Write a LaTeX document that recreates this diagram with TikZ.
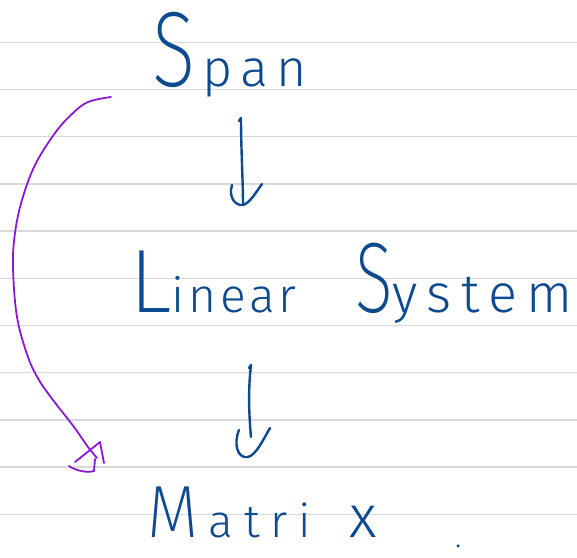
\documentclass[tikz,border=0pt]{standalone}
\usepackage{fontspec}
\usepackage{graphicx}
\newfontfamily\hand{Fira Sans Light}
\newfontfamily\handcap{Fira Sans ExtraLight}
\newcommand\hsz[1]{\fontsize{#1}{#1}\selectfont}
\definecolor{ink}{HTML}{0D4A8F}
\definecolor{violetink}{HTML}{8A1AD6}
\definecolor{paperrule}{HTML}{D9D9D9}

\begin{document}
\begin{tikzpicture}[x=1pt,y=-1pt,
  ruleline/.style={draw=paperrule,line width=1.4pt},
  word/.style={inner sep=0pt,anchor=base west,text=ink,font=\hand},
  pen/.style={draw=ink,line width=2.4pt,line cap=round,line join=round},
  violetpen/.style={draw=violetink,line width=1.8pt,line cap=round,line join=round}]
  % paper
  \fill[white] (0,0) rectangle (577,557);
  \useasboundingbox (0,0) rectangle (577,557);
  \foreach \k in {0,...,10}
    \draw[ruleline] (0,42.3+47.2*\k) -- (577,42.3+47.2*\k);

  % words
  \node[word] (span) at (152,86)
    {{\handcap\hsz{107}\scalebox{0.75}[1]{S}}\kern7pt\hsz{52}\addfontfeature{LetterSpace=16}pan};
  \node[word] (linear) at (129,312)
    {{\handcap\hsz{90}L}\hsz{48}\addfontfeature{LetterSpace=8}inear};
  \node[word] (system) at (355,312)
    {{\handcap\hsz{100}\scalebox{0.7}[1]{S}}\hsz{54}\addfontfeature{LetterSpace=17}ystem};
  \node[word] (matrix) at (147,537)
    {{\handcap\hsz{74}\scalebox{0.9}[1]{M}}\kern10pt\hsz{46}\addfontfeature{LetterSpace=24}atri\kern38pt\hsz{60}x};
  \node[word] (dot) at (455,547) {\hsz{30}.};

  % end points of the strokes
  \coordinate (a1s) at (241,118);
  \coordinate (a1e) at (243,205);
  \coordinate (a2s) at (251,365);
  \coordinate (a2e) at (248,457);
  \coordinate (cs) at (111,97);
  \coordinate (ce) at (97,458);

  % Span -> Linear System
  \draw[pen] (a1s) ++(-2,3) -- (a1s) .. controls (241,150) and (243,180) .. (a1e);
  \draw[pen] (232,185) .. controls (228,198) and (236,206) .. (a1e)
    .. controls (250,203) and (256,192) .. (262,184);

  % Linear System -> Matrix
  \draw[pen] (a2s) ++(-2,3) -- (a2s) .. controls (248,390) and (249,415) .. (251,437);
  \draw[pen] (239,430) .. controls (233,445) and (238,459) .. (a2e)
    .. controls (256,455) and (263,440) .. (270,428);

  % Span -> Matrix, curved
  \draw[violetpen] plot[smooth,tension=0.6] coordinates
    {(cs) (88,102) (72,114) (55,133) (35,165) (22,200) (15,233) (13,267)
     (17,317) (28,357) (39,380) (53,400) (74,427) (88,447) (ce)};
  \draw[violetpen] (75,462) -- (100,442) -- (104,463);
  \draw[violetpen] (69,466) .. controls (76,471) and (88,473) .. (94,471) -- (95,459);
\end{tikzpicture}
\end{document}
